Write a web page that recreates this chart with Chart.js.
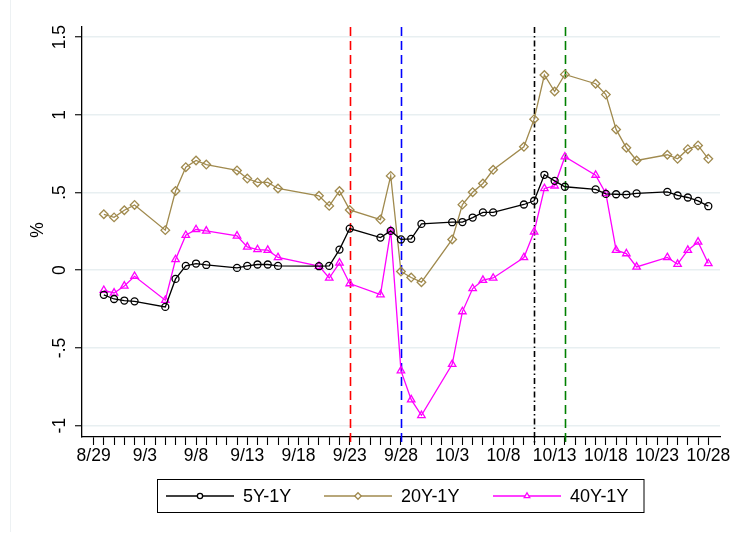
<!DOCTYPE html>
<html>
<head>
<meta charset="utf-8">
<script src="https://cdn.jsdelivr.net/npm/chart.js@4.4.0/dist/chart.umd.min.js"></script>
<style>
html, body { margin: 0; padding: 0; background: #fff; }
</style>
</head>
<body>
<canvas id="spread-chart" width="733" height="533"></canvas>
<script>
// trading days (2022)
var dates = ["8/30","8/31","9/1","9/2","9/5","9/6","9/7","9/8","9/9",
  "9/12","9/13","9/14","9/15","9/16","9/20","9/21","9/22","9/23",
  "9/26","9/27","9/28","9/29","9/30","10/3","10/4","10/5","10/6","10/7",
  "10/10","10/11","10/12","10/13","10/14","10/17","10/18","10/19","10/20","10/21",
  "10/24","10/25","10/26","10/27","10/28"];

var spread5y = [-0.158, -0.185, -0.195, -0.2, -0.236, -0.056, 0.028, 0.043, 0.034,
  0.015, 0.028, 0.037, 0.037, 0.028, 0.026, 0.028, 0.133, 0.268,
  0.21, 0.253, 0.198, 0.202, 0.298, 0.309, 0.31, 0.339, 0.372, 0.372,
  0.423, 0.447, 0.614, 0.575, 0.537, 0.52, 0.491, 0.489, 0.487, 0.494,
  0.504, 0.481, 0.468, 0.446, 0.412];

var spread20y = [0.36, 0.34, 0.386, 0.42, 0.258, 0.51, 0.663, 0.706, 0.68,
  0.642, 0.59, 0.565, 0.565, 0.526, 0.479, 0.414, 0.51, 0.388,
  0.326, 0.607, -0.008, -0.047, -0.077, 0.198, 0.422, 0.502, 0.558, 0.646,
  0.794, 0.972, 1.256, 1.15, 1.26, 1.2, 1.13, 0.906, 0.788, 0.706,
  0.743, 0.717, 0.779, 0.803, 0.717];

var spread40y = [-0.129, -0.146, -0.101, -0.039, -0.193, 0.069, 0.225, 0.262, 0.253,
  0.221, 0.15, 0.133, 0.129, 0.082, 0.026, -0.05, 0.047, -0.086,
  -0.157, 0.253, -0.646, -0.833, -0.934, -0.605, -0.266, -0.118, -0.064, -0.05,
  0.082, 0.247, 0.526, 0.543, 0.73, 0.612, 0.494, 0.129, 0.107, 0.021,
  0.082, 0.039, 0.129, 0.182, 0.043];

var seriesNames = ["5Y-1Y", "20Y-1Y", "40Y-1Y"];
var xTickLabels = ["8/29","9/3","9/8","9/13","9/18","9/23","9/28","10/3","10/8","10/13","10/18","10/23","10/28"];
var yTickValues = [-1, -0.5, 0, 0.5, 1, 1.5];
var yTickLabels = ["-1", "-.5", "0", ".5", "1", "1.5"];
var eventDates = ["9/23", "9/28", "10/11", "10/14"];
var eventColors = ["#ff0000", "#0000ff", "#000000", "#008000"];

var FONT = '"Liberation Sans", Arial, sans-serif';
var colors = ["#000000", "#a08a4e", "#ff00ff"];
var styles = ["circle", "rectRot", "triangle"];
var radii = [3.5, 4.3, 4.3];

function dayIndex(s) {
  var p = s.split("/");
  var t = Date.UTC(2022, +p[0] - 1, +p[1]);
  return Math.round((t - Date.UTC(2022, 7, 29)) / 86400000);
}

var allDays = [];
for (var d = 0; d <= dayIndex("10/28"); d++) allDays.push(d);

function points(vals) {
  return vals.map(function (v, i) { return { x: dayIndex(dates[i]), y: v }; });
}

var seriesValues = [spread5y, spread20y, spread40y];
var datasets = seriesValues.map(function (vals, i) {
  return {
    label: seriesNames[i],
    data: points(vals),
    borderColor: colors[i],
    borderWidth: 1.3,
    pointStyle: styles[i],
    pointRadius: radii[i],
    pointBorderColor: colors[i],
    pointBackgroundColor: "rgba(0,0,0,0)",
    pointBorderWidth: 1.3,
    tension: 0
  };
});

var extras = {
  id: "extras",
  beforeDatasetsDraw: function (chart) {
    var ctx = chart.ctx, x = chart.scales.x, area = chart.chartArea;
    ctx.save();
    eventDates.forEach(function (s, i) {
      var px = Math.round(x.getPixelForValue(dayIndex(s))) + 0.5;
      ctx.strokeStyle = eventColors[i];
      ctx.lineWidth = 1.6;
      ctx.setLineDash(i === 2 ? [6, 3, 1.5, 3] : [9, 5]);
      ctx.beginPath();
      ctx.moveTo(px, area.top);
      ctx.lineTo(px, area.bottom + 8);
      ctx.stroke();
    });
    ctx.restore();
  },
  afterDraw: function (chart) {
    var ctx = chart.ctx, x = chart.scales.x, y = chart.scales.y;
    ctx.save();
    // faint outer frame line
    ctx.strokeStyle = "#edf1f3";
    ctx.lineWidth = 1;
    ctx.beginPath();
    ctx.moveTo(10.5, 0);
    ctx.lineTo(10.5, 532);
    ctx.stroke();

    ctx.fillStyle = "#000";
    ctx.font = "17.5px " + FONT;
    // x tick labels
    ctx.textAlign = "center";
    ctx.textBaseline = "alphabetic";
    xTickLabels.forEach(function (s) {
      ctx.fillText(s, x.getPixelForValue(dayIndex(s)), 461);
    });
    // y tick labels (rotated)
    yTickValues.forEach(function (v, i) {
      ctx.save();
      ctx.translate(60, y.getPixelForValue(v));
      ctx.rotate(-Math.PI / 2);
      ctx.textBaseline = "middle";
      ctx.fillText(yTickLabels[i], 0, 0);
      ctx.restore();
    });
    // y title
    ctx.save();
    ctx.translate(38, 230);
    ctx.rotate(-Math.PI / 2);
    ctx.textBaseline = "middle";
    ctx.fillText("%", 0, 0);
    ctx.restore();

    // legend
    ctx.strokeStyle = "#000";
    ctx.lineWidth = 1;
    ctx.strokeRect(157.5, 479.5, 486.5, 33);
    var lx = [166, 324, 493];
    ctx.font = "18px " + FONT;
    ctx.textAlign = "left";
    seriesNames.forEach(function (name, i) {
      ctx.strokeStyle = colors[i];
      ctx.lineWidth = 1.3;
      ctx.beginPath();
      ctx.moveTo(lx[i], 496);
      ctx.lineTo(lx[i] + 68, 496);
      ctx.stroke();
      ctx.fillStyle = "#fff";
      Chart.helpers.drawPoint(ctx, { pointStyle: styles[i], radius: radii[i] * 0.75, rotation: 0, borderWidth: 1.3 }, lx[i] + 34, 496);
      ctx.fillStyle = "#000";
      ctx.fillText(name, lx[i] + 77, 502);
    });
    ctx.restore();
  }
};

var chart = new Chart(document.getElementById("spread-chart"), {
  type: "line",
  data: { datasets: datasets },
  options: {
    responsive: false,
    animation: false,
    layout: { padding: { top: 27, right: 13, left: 0, bottom: 0 } },
    plugins: { legend: { display: false }, tooltip: { enabled: false } },
    scales: {
      x: {
        type: "linear",
        min: -1.13,
        max: 61.14,
        afterBuildTicks: function (s) { s.ticks = allDays.map(function (v) { return { value: v }; }); },
        afterFit: function (s) { s.height = 96; },
        grid: { drawOnChartArea: false, tickColor: "#000", tickLength: 8, tickWidth: 1.1 },
        border: { color: "#000", width: 1.3 },
        ticks: { display: false }
      },
      y: {
        min: -1.073,
        max: 1.565,
        afterBuildTicks: function (s) { s.ticks = yTickValues.map(function (v) { return { value: v }; }); },
        afterFit: function (s) { s.width = 82; },
        grid: { color: "#e8eff1", lineWidth: 1.5, tickColor: "#000", tickLength: 7, tickWidth: 1.1 },
        border: { color: "#000", width: 1.3 },
        ticks: { display: false }
      }
    }
  },
  plugins: [extras]
});
</script>
</body>
</html>
